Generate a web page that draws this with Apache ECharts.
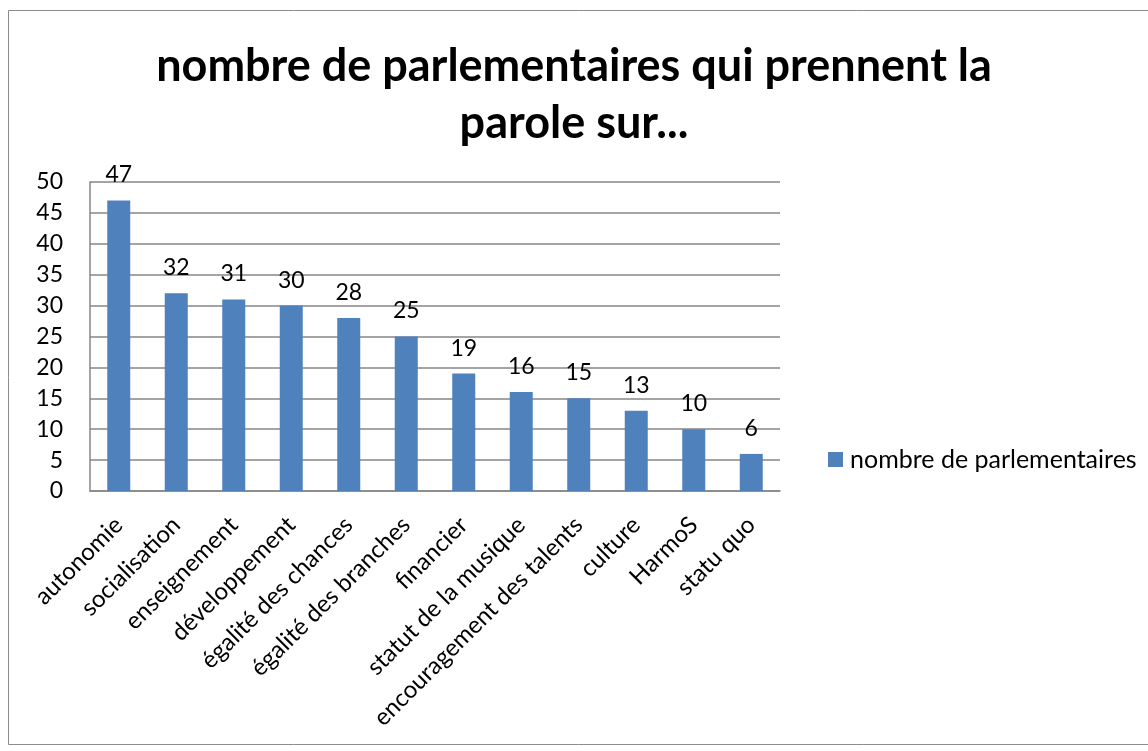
<!DOCTYPE html>
<html>
<head>
<meta charset="utf-8">
<script src="https://cdn.jsdelivr.net/npm/echarts@6/dist/echarts.min.js"></script>
<style>
  html, body { margin: 0; padding: 0; background: #fff; }
  #main { width: 1148px; height: 751px; }
</style>
</head>
<body>
<div id="main"></div>
<script>
    var categories = ['autonomie', 'socialisation', 'enseignement', 'développement', 'égalité des chances',
        'égalité des branches', 'financier', 'statut de la musique', 'encouragement des talents',
        'culture', 'HarmoS', 'statu quo'];
    var values = [47, 32, 31, 30, 28, 25, 19, 16, 15, 13, 10, 6];
    var seriesName = 'nombre de parlementaires';
    var titleText = 'nombre de parlementaires qui prennent la\nparole sur...';

    var font = 'Lato, "Open Sans", sans-serif';
    var myChart = echarts.init(document.getElementById('main'));
    option = {
        animation: false,
        textStyle: { fontFamily: font },
        graphic: [{
            type: 'rect',
            shape: { x: 8.5, y: 10.5, width: 1200, height: 734 },
            style: { fill: 'none', stroke: '#8c8c8c', lineWidth: 1 }
        }],
        title: {
            text: titleText,
            left: 'center',
            top: 33,
            textStyle: { fontSize: 45, fontWeight: 'bold', color: '#000', lineHeight: 57, fontFamily: font }
        },
        legend: {
            data: [seriesName],
            left: 823,
            top: 442,
            itemWidth: 15,
            itemHeight: 15,
            itemGap: 6,
            icon: 'rect',
            textStyle: { fontSize: 25, color: '#000', fontFamily: font, padding: [0, 0, 0, 2] }
        },
        grid: { left: 90, right: 368, top: 182, bottom: 260 },
        xAxis: {
            type: 'category',
            data: categories,
            axisLine: { lineStyle: { color: '#868686', width: 1.5 } },
            axisTick: { show: false },
            axisLabel: { rotate: 45, fontSize: 24, color: '#000', interval: 0, margin: 30, fontFamily: font }
        },
        yAxis: {
            type: 'value',
            min: 0,
            max: 50,
            interval: 5,
            axisLine: { show: true, lineStyle: { color: '#868686', width: 1.5 } },
            axisTick: { show: false },
            splitLine: { lineStyle: { color: '#868686', width: 1.5 } },
            axisLabel: { fontSize: 23, color: '#000', margin: 27, fontFamily: font }
        },
        series: [{
            name: seriesName,
            type: 'bar',
            data: values,
            barWidth: 23,
            itemStyle: { color: '#4f81bd' },
            label: { show: true, position: 'top', fontSize: 23, color: '#000', distance: 14, fontFamily: font }
        }]
    };
    myChart.setOption(option);
</script>
</body>
</html>
